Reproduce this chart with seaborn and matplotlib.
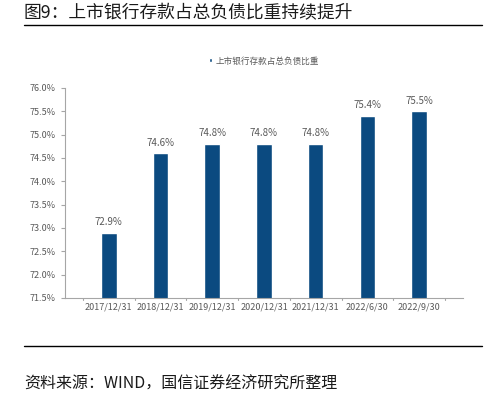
import pandas as pd
import matplotlib.pyplot as plt
import seaborn as sns
from matplotlib.ticker import MultipleLocator, FuncFormatter

# data
dates = ['2017/12/31', '2018/12/31', '2019/12/31', '2020/12/31',
         '2021/12/31', '2022/6/30', '2022/9/30']
ratio = [72.9, 74.6, 74.8, 74.8, 74.8, 75.4, 75.5]
series = '上市银行存款占总负债比重'

df = pd.DataFrame({'date': dates, 'ratio': ratio, 'series': series})

sns.set_style('white')
plt.rcParams['font.family'] = ['Noto Sans CJK SC', 'DejaVu Sans']

fig = plt.figure(figsize=(4.99, 3.96), dpi=100)
ax = fig.add_axes([0.130, 0.2475, 0.798, 0.5305])

sns.barplot(data=df, x='date', y='ratio', hue='series', palette=['#0b4a80'],
            width=0.3, saturation=1, ax=ax)

ax.set_ylim(71.5, 76.0)
ax.yaxis.set_major_locator(MultipleLocator(0.5))
ax.yaxis.set_major_formatter(FuncFormatter(lambda v, p: '%.1f%%' % v))
ax.set_xlabel('')
ax.set_ylabel('')

for s in ['top', 'right']:
    ax.spines[s].set_visible(False)
for s in ['left', 'bottom']:
    ax.spines[s].set_color('#a6a6a6')
    ax.spines[s].set_linewidth(0.8)
ax.tick_params(axis='both', labelsize=6.5, colors='#595959', length=0)
ax.tick_params(axis='y', left=True, length=3, color='#a6a6a6', width=0.8)

# little separators between categories on the x axis
for i in range(len(dates) + 1):
    ax.plot([i - 0.5, i - 0.5], [71.5, 71.45], color='#a6a6a6', lw=0.8,
            clip_on=False)

for i, v in enumerate(ratio):
    ax.text(i, v + 0.12, '%.1f%%' % v, ha='center', va='bottom',
            fontsize=7, color='#595959')

ax.legend(loc='lower center', bbox_to_anchor=(0.5, 1.07), frameon=False,
          fontsize=6.2, handlelength=0.35, handleheight=0.35,
          handletextpad=0.4, labelcolor='#595959')

fig.text(0.048, 0.967, '图9：上市银行存款占总负债比重持续提升',
         fontsize=12.8, ha='left', va='center', color='#1a1a1a')
fig.add_artist(plt.Line2D([0.048, 0.966], [0.937, 0.937], color='black', lw=1))
fig.add_artist(plt.Line2D([0.048, 0.966], [0.126, 0.126], color='black', lw=1))
fig.text(0.048, 0.03, '资料来源：WIND，国信证券经济研究所整理',
         fontsize=11.5, ha='left', va='center', color='#1a1a1a')

fig.savefig('out.png', dpi=100)
